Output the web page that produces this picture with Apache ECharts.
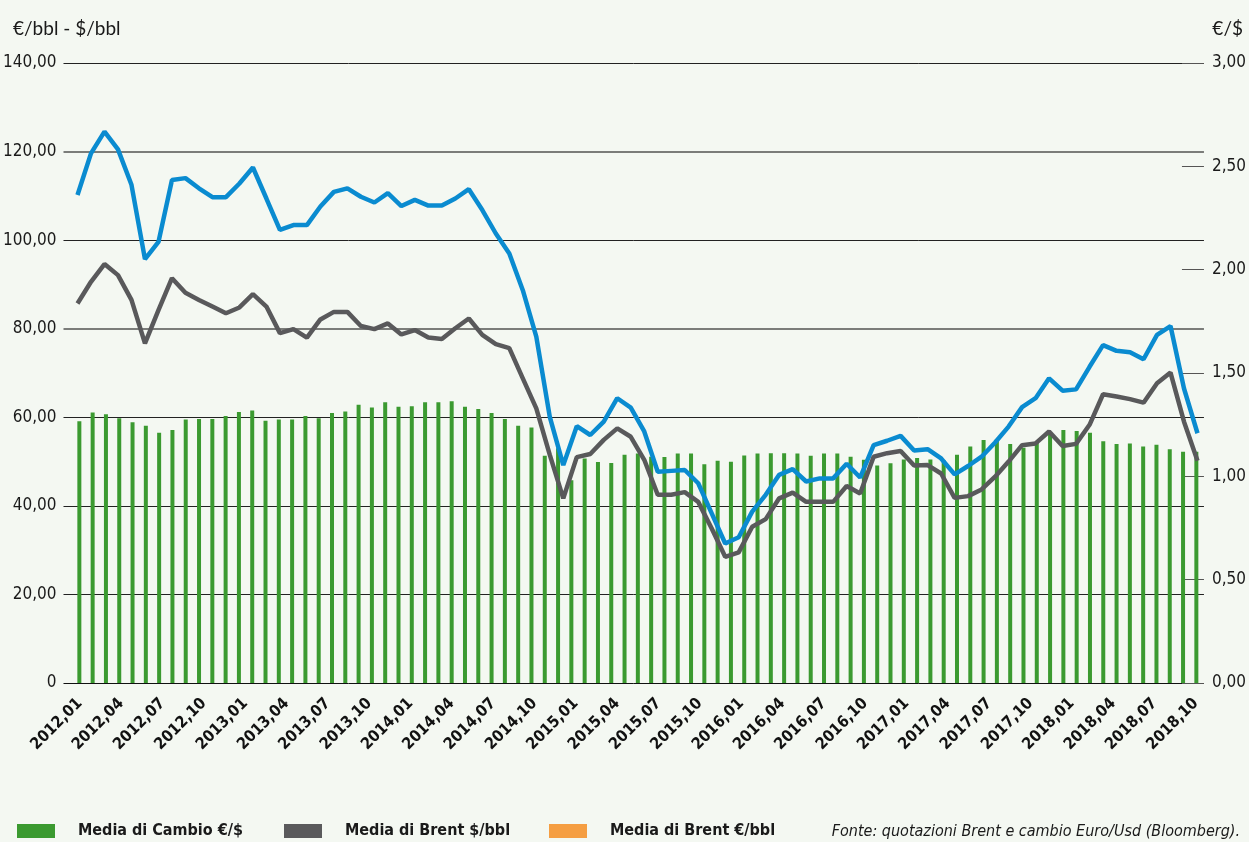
<!DOCTYPE html>
<html>
<head>
<meta charset="utf-8">
<script src="https://cdn.jsdelivr.net/npm/echarts@6/dist/echarts.min.js"></script>
<style>
  html, body { margin: 0; padding: 0; background: #f4f8f2; }
  #chart { width: 1249px; height: 842px; }
</style>
</head>
<body>
<div id="chart"></div>
<script>
// etichette mesi "2012,01" ...
function monthList(year, month, n) {
  var out = [];
  for (var i = 0; i < n; i++) {
    var y = year + Math.floor((month - 1 + i) / 12);
    var m = (month - 1 + i) % 12 + 1;
    out.push(y + ',' + (m < 10 ? '0' + m : m));
  }
  return out;
}

var barMonths = monthList(2012, 1, 85);     // barre cambio
var lineMonths = monthList(2012, 1, 84);    // linee brent
var tickMonths = monthList(2012, 1, 82);    // etichette asse x (2012,01 - 2018,10)

// Media di Cambio €/$ (asse destro)
var cambio = [1.266,1.309,1.301,1.281,1.262,1.245,1.211,1.224,1.275,1.277,1.277,1.292,
  1.311,1.318,1.269,1.275,1.275,1.292,1.281,1.307,1.314,1.346,1.333,1.359,
  1.337,1.339,1.359,1.359,1.363,1.337,1.326,1.307,1.277,1.245,1.236,1.099,
  1.136,0.981,1.086,1.069,1.065,1.104,1.110,1.095,1.093,1.110,1.110,1.059,
  1.076,1.071,1.101,1.110,1.112,1.112,1.110,1.099,1.110,1.110,1.095,1.080,
  1.052,1.063,1.082,1.089,1.082,1.078,1.104,1.144,1.176,1.181,1.157,1.138,
  1.168,1.213,1.224,1.219,1.211,1.170,1.157,1.159,1.144,1.153,1.131,1.119,1.119];

// Media di Brent $/bbl (linea blu)
var brentUsd = [110.2,119.6,124.5,120.5,112.5,95.7,99.6,113.6,114.0,111.7,109.7,109.7,112.8,116.4,
  109.4,102.3,103.4,103.4,107.6,110.9,111.7,109.8,108.5,110.6,107.7,109.1,107.8,107.8,
  109.4,111.5,106.8,101.5,97.0,88.7,78.2,60.1,49.2,58.0,56.0,59.0,64.3,62.2,
  56.8,47.7,47.9,48.1,45.1,38.3,31.5,32.9,38.7,42.5,47.0,48.3,45.5,46.2,
  46.2,49.5,46.4,53.7,54.7,55.8,52.5,52.8,50.7,47.1,49.0,51.1,54.3,57.9,
  62.3,64.3,68.8,66.0,66.3,71.4,76.3,75.0,74.7,73.1,78.6,80.6,66.5,56.4];

// Media di Brent €/bbl (linea grigia)
var brentEur = [85.7,90.6,94.6,92.1,86.5,76.7,84.2,91.4,88.1,86.5,85.0,83.5,84.8,87.8,
  85.0,79.0,79.9,78.0,82.1,83.8,83.8,80.6,79.9,81.2,78.7,79.7,78.0,77.7,
  80.1,82.3,78.6,76.5,75.6,68.8,62.0,51.5,41.7,51.0,51.7,54.9,57.5,55.6,
  50.4,42.5,42.5,43.1,40.9,34.9,28.5,29.5,35.3,37.0,41.7,43.0,40.9,40.9,
  40.9,44.5,42.8,51.1,51.9,52.4,49.1,49.2,47.3,41.8,42.2,43.7,46.6,50.0,
  53.7,54.1,56.8,53.5,54.0,58.3,65.2,64.7,64.1,63.3,67.7,70.1,59.0,50.2];

var condensed = '"Liberation Sans Narrow", "DejaVu Sans Condensed", "Roboto", sans-serif';
var fmt = function (v) { return v.toFixed(2).replace('.', ','); };

var myChart = echarts.init(document.getElementById('chart'));
var legendText = {
  fontFamily: condensed, fontWeight: 'bold', fontSize: 16, color: '#1a1a1a',
  rich: { s: { width: 18 }, t: { fontFamily: condensed, fontWeight: 'bold', fontSize: 16, color: '#1a1a1a' } }
};
var legendFmt = function (name) { return '{s|}{t|' + name + '}'; };

myChart.setOption({
  backgroundColor: '#f4f8f2',
  animation: false,
  title: [
    { text: '€/bbl - $/bbl', left: 8, top: 14, textStyle: { fontFamily: 'Lato', fontWeight: 'normal', fontSize: 19, color: '#1a1a1a' } },
    { text: '€/$', right: 1, top: 14, textStyle: { fontFamily: 'Lato', fontWeight: 'normal', fontSize: 19, color: '#1a1a1a' } },
    { text: 'Fonte: quotazioni Brent e cambio Euro/Usd (Bloomberg).', right: 4, top: 819,
      textStyle: { fontFamily: condensed, fontStyle: 'italic', fontWeight: 'normal', fontSize: 16, color: '#1a1a1a' } }
  ],
  legend: [
    { left: 12, top: 818, icon: 'rect', itemWidth: 38, itemHeight: 14, textStyle: legendText, formatter: legendFmt,
      selectedMode: false, data: [{ name: 'Media di Cambio €/$' }] },
    { left: 279, top: 818, icon: 'rect', itemWidth: 38, itemHeight: 14, textStyle: legendText, formatter: legendFmt,
      selectedMode: false, data: [{ name: 'Media di Brent $/bbl', itemStyle: { color: '#5a5a5c' } }] },
    { left: 544, top: 818, icon: 'rect', itemWidth: 38, itemHeight: 14, textStyle: legendText, formatter: legendFmt,
      selectedMode: false, data: [{ name: 'Media di Brent €/bbl', itemStyle: { color: '#f59e42' } }] }
  ],
  grid: [
    { left: 62, right: 42, top: 63, bottom: 159 },   // cornice + assi
    { left: 72.7, right: 46, top: 63, bottom: 159 }, // barre
    { left: 77.5, right: 51.5, top: 63, bottom: 159 }, // linee
    { left: 80, right: 53, top: 63, bottom: 159 }    // etichette mesi
  ],
  xAxis: [
    { gridIndex: 0, type: 'value', min: 0, max: 1, show: false },
    { gridIndex: 1, type: 'category', data: barMonths, show: false },
    { gridIndex: 2, type: 'category', data: lineMonths, boundaryGap: false, show: false },
    { gridIndex: 3, type: 'category', data: tickMonths, boundaryGap: false,
      axisLine: { show: false }, axisTick: { show: false },
      axisLabel: { interval: 2, rotate: 45, margin: 18, fontFamily: condensed, fontWeight: 'bold', fontSize: 16, color: '#111' } }
  ],
  yAxis: [
    { gridIndex: 0, type: 'value', position: 'left', min: 0, max: 140, interval: 20,
      axisLine: { show: false }, axisTick: { show: false },
      axisLabel: { margin: 7, fontFamily: condensed, fontSize: 17, color: '#1a1a1a',
        formatter: function (v) { return v === 0 ? '0' : fmt(v); } },
      splitLine: { lineStyle: { width: 1, color: ['#111', '#222', '#222', '#222', 'transparent', '#222', 'transparent', '#222'] } } },
    { gridIndex: 0, type: 'value', position: 'right', min: 0, max: 3, interval: 0.5,
      axisLine: { show: false },
      axisTick: { show: true, inside: true, length: 22, lineStyle: { color: '#555', width: 1 } },
      axisLabel: { margin: 8, fontFamily: condensed, fontSize: 17, color: '#1a1a1a', formatter: fmt },
      splitLine: { show: false } },
    { gridIndex: 0, type: 'value', min: 0, max: 140, interval: 20,
      axisLine: { show: false }, axisTick: { show: false }, axisLabel: { show: false },
      splitLine: { lineStyle: { width: 2, color: ['transparent', 'transparent', 'transparent', 'transparent', '#7b7d7a', 'transparent', '#7b7d7a', 'transparent'] } } },
    { gridIndex: 1, type: 'value', min: 0, max: 3, show: false },
    { gridIndex: 2, type: 'value', min: 0, max: 140, show: false },
    { gridIndex: 3, type: 'value', min: 0, max: 1, show: false }
  ],
  series: [
    { name: 'Media di Cambio €/$', type: 'bar', xAxisIndex: 1, yAxisIndex: 3, data: cambio,
      barWidth: 4, itemStyle: { color: '#3b9a30' } },
    { name: 'Media di Brent $/bbl', type: 'line', xAxisIndex: 2, yAxisIndex: 4, data: brentUsd,
      showSymbol: false, color: '#0a8bd0', lineStyle: { width: 4.5, color: '#0a8bd0' }, z: 3 },
    { name: 'Media di Brent €/bbl', type: 'line', xAxisIndex: 2, yAxisIndex: 4, data: brentEur,
      showSymbol: false, color: '#59595b', lineStyle: { width: 4.5, color: '#59595b' }, z: 4 }
  ]
});
</script>
</body>
</html>
